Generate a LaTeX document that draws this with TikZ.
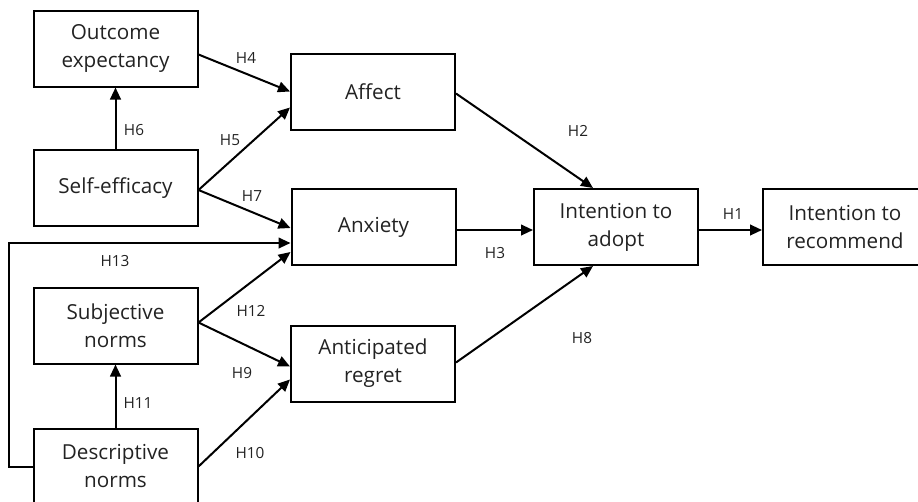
\documentclass[tikz,border=0pt]{standalone}
\usepackage{fontspec}
\setmainfont{Open Sans}
\usetikzlibrary{arrows.meta,calc}
\definecolor{txt}{RGB}{34,34,34}
\begin{document}
\begin{tikzpicture}[x=0.75pt,y=-0.75pt,
  box/.style={draw,line width=1.5pt,minimum width=164*0.75pt,minimum height=76*0.75pt,inner sep=0pt,align=center,text=txt,font=\fontsize{15.5}{21}\selectfont},
  conn/.style={line width=1.5pt,-{Triangle[length=9pt,width=8pt]}},
  lab/.style={font=\fontsize{11.5}{13}\selectfont,inner sep=0pt,text=txt}]
\useasboundingbox (0,0) rectangle (918,501);
\clip (0,0) rectangle (918,501);
\node[box] (oe) at (115.5,48.5) {Outcome\\expectancy};
\node[box] (se) at (115.5,188) {Self-efficacy};
\node[box] (af) at (373,91.5) {Affect};
\node[box] (ax) at (373.5,227) {Anxiety};
\node[box] (ia) at (616,227) {Intention to\\adopt};
\node[box] (ir) at (845,227) {Intention to\\recommend};
\node[box] (sn) at (115.5,325.5) {Subjective\\norms};
\node[box] (ar) at (373,363.5) {Anticipated\\regret};
\node[box] (dn) at (115.5,466.5) {Descriptive\\norms};
\draw[conn] (se.north) -- (oe.south);
\draw[conn] ($(oe.east)+(0,6)$) -- (af.west);
\draw[conn] ($(se.east)+(0,2)$) -- ($(af.west)+(0,16)$);
\draw[conn] ($(se.east)+(0,2)$) -- ($(ax.west)+(0,1)$);
\draw[conn] (dn.west) -- ++(-24,0) |- ($(ax.west)+(0,16)$);
\draw[conn] ($(sn.east)+(0,-3)$) -- ($(ax.west)+(0,25)$);
\draw[conn] ($(sn.east)+(0,-3)$) -- ($(ar.west)+(0,3)$);
\draw[conn] (dn.east) -- ($(ar.west)+(0,16)$);
\draw[conn] (dn.north) -- (sn.south);
\draw[conn] ($(af.east)+(0,2)$) -- ($(ia.north)+(-23,0)$);
\draw[conn] ($(ax.east)+(0,3)$) -- ($(ia.west)+(0,3)$);
\draw[conn] ($(ar.east)+(0,-1)$) -- ($(ia.south)+(-23,0)$);
\draw[conn] ($(ia.east)+(0,3)$) -- ($(ir.west)+(0,3)$);
\node[lab] (l4) at (246,58) {H4};
\node[lab] (l6) at (134,130) {H6};
\node[lab] (l5) at (230,140) {H5};
\node[lab] (l7) at (252,196) {H7};
\node[lab] (l13) at (115,261) {H13};
\node[lab] (l12) at (251,311) {H12};
\node[lab] (l9) at (242,373) {H9};
\node[lab] (l11) at (138,403) {H11};
\node[lab] (l10) at (250,453) {H10};
\node[lab] (l2) at (578,131) {H2};
\node[lab] (l3) at (495,253) {H3};
\node[lab] (l8) at (582,338) {H8};
\node[lab] (l1) at (733,214) {H1};
\end{tikzpicture}
\end{document}
